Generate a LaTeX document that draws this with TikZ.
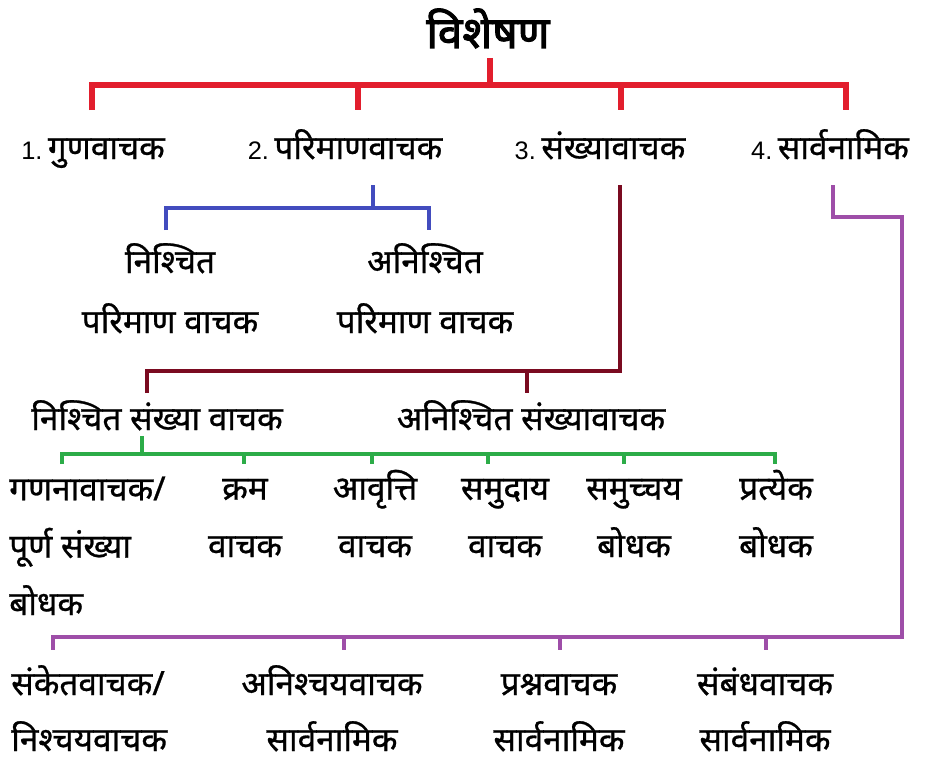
\documentclass[tikz,border=0pt]{standalone}
\usepackage{fontspec}
\newfontfamily\dev[Script=Devanagari,FakeBold=0.8]{Noto Sans}
\newfontfamily\devtitle[Script=Devanagari,FakeBold=2.5]{Noto Sans}
\newfontfamily\numfont{Liberation Sans}
\newcommand{\numlbl}[1]{{\numfont\fontsize{19}{20}\selectfont #1}\,}
\usetikzlibrary{calc}
\definecolor{cred}{RGB}{226,30,45}
\definecolor{cblue}{RGB}{66,76,190}
\definecolor{cmaroon}{RGB}{122,10,32}
\definecolor{cgreen}{RGB}{44,172,72}
\definecolor{cpurple}{RGB}{158,78,168}
\tikzset{
  lbl/.style={font=\dev\fontsize{25}{43}\selectfont, inner sep=0pt, anchor=base, align=center},
  lbll/.style={lbl, align=left, anchor=base west},
  ttl/.style={font=\devtitle\fontsize{33}{36}\selectfont, inner sep=0pt, anchor=base},
  conn/.style={line width=3.6pt, line cap=butt, line join=miter},
}
\begin{document}
\begin{tikzpicture}[x=0.75pt,y=-0.75pt]
\useasboundingbox (0,0) rectangle (927,767);
% title
\node[ttl] (t) at (488,48) {विशेषण};
% level 1
\node[lbl] (a1) at (93,159) {\numlbl{1.}गुणवाचक};
\node[lbl] (a2) at (345,159) {\numlbl{2.}परिमाणवाचक};
\node[lbl] (a3) at (600,159) {\numlbl{3.}संख्यावाचक};
\node[lbl] (a4) at (830,159) {\numlbl{4.}सार्वनामिक};
% red
\coordinate (r0) at (490,85);
\draw[conn,cred,line width=3.9pt] (490,58) -- (r0);
\draw[conn,cred,line width=3.9pt] (92,110) -- (92,85) -- (846,85) -- (846,110);
\draw[conn,cred,line width=3.9pt] (358,85) -- (358,110);
\draw[conn,cred,line width=3.9pt] (621,85) -- (621,110);
% blue
\node[lbl,font=\dev\fontsize{25}{45}\selectfont] (b1) at (170,333) {निश्चित\\परिमाण वाचक};
\node[lbl,font=\dev\fontsize{25}{45}\selectfont] (b2) at (425,333) {अनिश्चित\\परिमाण वाचक};
\draw[conn,cblue] (373,185) -- (373,208);
\draw[conn,cblue] (166,230) -- (166,208) -- (429,208) -- (429,230);
% maroon
\node[lbl] (c1) at (157,430) {निश्चित संख्या वाचक};
\node[lbl] (c2) at (531,430) {अनिश्चित संख्यावाचक};
\draw[conn,cmaroon] (147,393) -- (147,371) -- (620,371) -- (620,185);
\draw[conn,cmaroon] (527,371) -- (527,393);
% green
\node[lbll] (d1) at (9,615) {गणनावाचक/\\पूर्ण संख्या\\बोधक};
\node[lbl] (d2) at (245,557) {क्रम\\वाचक};
\node[lbl] (d3) at (375,557) {आवृत्ति\\वाचक};
\node[lbl] (d4) at (505,557) {समुदाय\\वाचक};
\node[lbl] (d5) at (634,557) {समुच्चय\\बोधक};
\node[lbl] (d6) at (776,557) {प्रत्येक\\बोधक};
\draw[conn,cgreen] (142,436) -- (142,454);
\draw[conn,cgreen] (62,464) -- (62,454) -- (775,454) -- (775,464);
\foreach \x in {244,372,488,624} \draw[conn,cgreen] (\x,454) -- (\x,464);
% purple
\node[lbll,font=\dev\fontsize{25}{42}\selectfont] (e1) at (11,751) {संकेतवाचक/\\निश्चयवाचक};
\node[lbl,font=\dev\fontsize{25}{42}\selectfont] (e2) at (332,751) {अनिश्चयवाचक\\सार्वनामिक};
\node[lbl,font=\dev\fontsize{25}{42}\selectfont] (e3) at (559,751) {प्रश्नवाचक\\सार्वनामिक};
\node[lbl,font=\dev\fontsize{25}{42}\selectfont] (e4) at (765,751) {संबंधवाचक\\सार्वनामिक};
\draw[conn,cpurple] (833,185) -- (833,217) -- (902,217) -- (902,637) -- (53,637) -- (53,650);
\foreach \x in {344,560,766} \draw[conn,cpurple] (\x,637) -- (\x,650);
\end{tikzpicture}
\end{document}
